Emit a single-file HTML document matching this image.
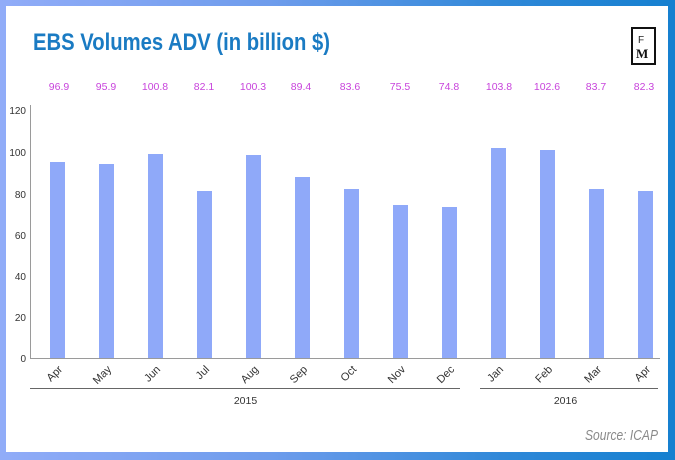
<!DOCTYPE html>
<html>
<head>
<meta charset="utf-8">
<style>
html,body{margin:0;padding:0;}
body{width:675px;height:460px;overflow:hidden;background:linear-gradient(to right,#91acf8 0%,#6e9cec 40%,#2f88d8 75%,#1580d0 100%);position:relative;}
.panel{position:absolute;left:6px;top:6px;width:662px;height:446px;background:#fff;}
svg{position:absolute;left:0;top:0;}
</style>
</head>
<body>
<div class="panel"></div>
<svg width="675" height="460" viewBox="0 0 675 460" xmlns="http://www.w3.org/2000/svg" font-family="Liberation Sans, sans-serif">
  <!-- Title -->
  <text x="33" y="50" font-size="24" font-weight="bold" fill="#1a7bc3" textLength="297" lengthAdjust="spacingAndGlyphs">EBS Volumes ADV (in billion $)</text>

  <!-- FM logo -->
  <rect x="632" y="28" width="23" height="36" fill="none" stroke="#111" stroke-width="2"/>
  <text x="638" y="43" font-size="10" fill="#222">F</text>
  <text x="636" y="58" font-size="13" font-weight="bold" font-family="Liberation Serif, serif" fill="#111">M</text>

  <!-- value labels -->
  <g font-size="10.5" fill="#c844dc" text-anchor="middle">
    <text x="59" y="90">96.9</text>
    <text x="106" y="90">95.9</text>
    <text x="155" y="90">100.8</text>
    <text x="204" y="90">82.1</text>
    <text x="253" y="90">100.3</text>
    <text x="301" y="90">89.4</text>
    <text x="350" y="90">83.6</text>
    <text x="400" y="90">75.5</text>
    <text x="449" y="90">74.8</text>
    <text x="499" y="90">103.8</text>
    <text x="547" y="90">102.6</text>
    <text x="596" y="90">83.7</text>
    <text x="644" y="90">82.3</text>
  </g>

  <!-- y axis -->
  <line x1="30.5" y1="105" x2="30.5" y2="358" stroke="#9a9a9a" stroke-width="1"/>
  <g font-size="10" fill="#333" text-anchor="end">
    <text x="26" y="114">120</text>
    <text x="26" y="156">100</text>
    <text x="26" y="198">80</text>
    <text x="26" y="239">60</text>
    <text x="26" y="280">40</text>
    <text x="26" y="321">20</text>
    <text x="26" y="362">0</text>
  </g>

  <!-- bars -->
  <g fill="#8fa9f9">
    <rect x="50" y="162" width="15" height="196"/>
    <rect x="99" y="164" width="15" height="194"/>
    <rect x="148" y="154" width="15" height="204"/>
    <rect x="197" y="191" width="15" height="167"/>
    <rect x="246" y="155" width="15" height="203"/>
    <rect x="295" y="177" width="15" height="181"/>
    <rect x="344" y="189" width="15" height="169"/>
    <rect x="393" y="205" width="15" height="153"/>
    <rect x="442" y="207" width="15" height="151"/>
    <rect x="491" y="148" width="15" height="210"/>
    <rect x="540" y="150" width="15" height="208"/>
    <rect x="589" y="189" width="15" height="169"/>
    <rect x="638" y="191" width="15" height="167"/>
  </g>

  <!-- x axis -->
  <line x1="30" y1="358.5" x2="660" y2="358.5" stroke="#9a9a9a" stroke-width="1"/>

  <!-- month labels -->
  <g font-size="11" fill="#333" text-anchor="end">
    <text transform="translate(63,370) rotate(-45)">Apr</text>
    <text transform="translate(112,370) rotate(-45)">May</text>
    <text transform="translate(161,370) rotate(-45)">Jun</text>
    <text transform="translate(210,370) rotate(-45)">Jul</text>
    <text transform="translate(259,370) rotate(-45)">Aug</text>
    <text transform="translate(308,370) rotate(-45)">Sep</text>
    <text transform="translate(357,370) rotate(-45)">Oct</text>
    <text transform="translate(406,370) rotate(-45)">Nov</text>
    <text transform="translate(455,370) rotate(-45)">Dec</text>
    <text transform="translate(504,370) rotate(-45)">Jan</text>
    <text transform="translate(553,370) rotate(-45)">Feb</text>
    <text transform="translate(602,370) rotate(-45)">Mar</text>
    <text transform="translate(651,370) rotate(-45)">Apr</text>
  </g>

  <!-- year groups -->
  <line x1="30" y1="388.5" x2="460" y2="388.5" stroke="#666" stroke-width="1"/>
  <line x1="480" y1="388.5" x2="658" y2="388.5" stroke="#666" stroke-width="1"/>
  <g font-size="10.5" fill="#333" text-anchor="middle">
    <text x="245.5" y="404">2015</text>
    <text x="565.5" y="404">2016</text>
  </g>

  <!-- source -->
  <text x="585" y="440" font-size="14.5" font-style="italic" fill="#8a8a8a" textLength="73" lengthAdjust="spacingAndGlyphs">Source: ICAP</text>
</svg>
</body>
</html>
